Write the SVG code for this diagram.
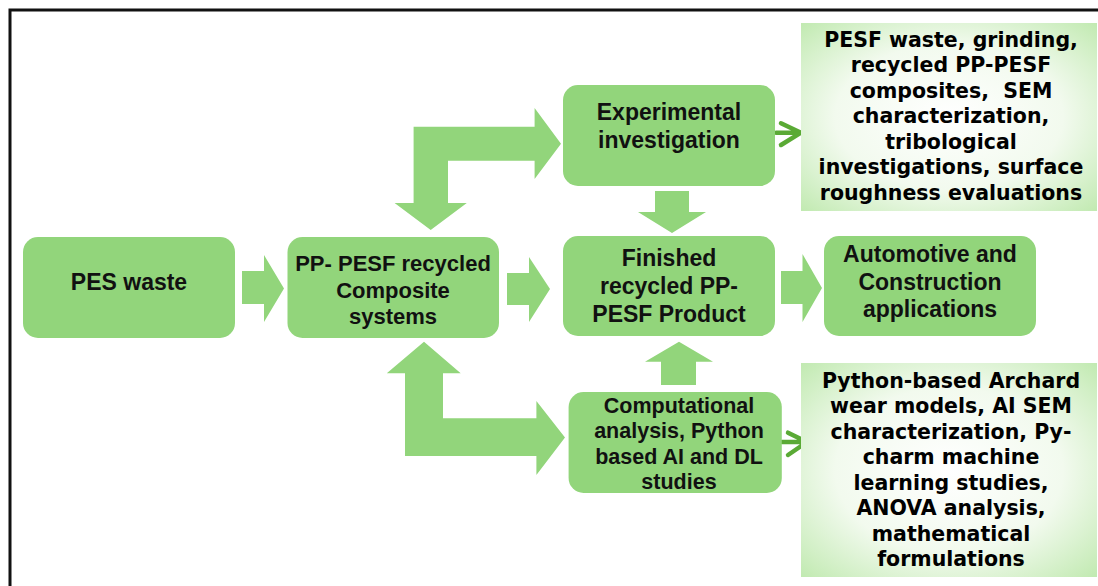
<svg xmlns="http://www.w3.org/2000/svg" width="1098" height="586" viewBox="0 0 1098 586">
<style>
.box{fill:#92d57b}
.blk{fill:#92d57b}
.t{font-family:"Liberation Sans",Arial,sans-serif;font-weight:bold;font-size:23px;fill:#111;text-anchor:middle}
.tp{font-size:22px}
.tc{font-size:21.5px}
.d{font-family:"DejaVu Sans",sans-serif;font-weight:bold;font-size:20.5px;fill:#000;text-anchor:middle}
.sa{fill:none;stroke:#5aaa35;stroke-width:4.5;stroke-linecap:round;stroke-linejoin:round}
</style>
<defs>
<radialGradient id="gd" cx="50%" cy="50%" r="70%">
<stop offset="0" stop-color="#ffffff"/>
<stop offset="0.55" stop-color="#f2faee"/>
<stop offset="1" stop-color="#c2eab2"/>
</radialGradient>
</defs>
<rect x="0" y="0" width="1098" height="586" fill="#fff"/>
<path d="M10 600 V10 H1110" fill="none" stroke="#111" stroke-width="3"/>

<g id="connectors">
<polygon class="blk" points="242,271 264,271 264,255 284,288.5 264,322 264,304 242,304"/>
<polygon class="blk" points="507,273 529,273 529,257 550,289 529,322 529,305 507,305"/>
<polygon class="blk" points="781,271 802.5,271 802.5,254 822,288 802.5,322 802.5,304 781,304"/>
<polygon class="blk" points="413.6,126.7 534.6,126.7 534.6,108 561,143.7 534.6,179 534.6,160.7 448,160.7 448,203 466.8,203 430.7,230 394.6,203 413.6,203"/>
<polygon class="blk" points="424,341.7 460.7,373.3 443,373.3 443,418.3 536.4,418.3 536.4,401 565,437.5 536.4,475 536.4,456 405,456 405,373.3 386.8,373.3"/>
<polygon class="blk" points="655,191 689,191 689,212 706,212 672,233 638,212 655,212"/>
<polygon class="blk" points="679,341.7 713,361.7 696,361.7 696,385 661,385 661,361.7 645,361.7"/>
<path class="sa" d="M776 132.7 H800 M781 123.3 L801 132.7 L781 145"/>
<path class="sa" d="M782 442 H806 M788 432.7 L807 442 L788 455"/>
</g>

<g id="pes-waste">
<rect class="box" x="23" y="237" width="212" height="101" rx="15"/>
<text class="t" x="129" y="290">PES waste</text>
</g>
<g id="pp-pesf">
<rect class="box" x="287.5" y="237" width="211.5" height="101" rx="15"/>
<text class="t tp" x="393" y="271">PP- PESF recycled</text>
<text class="t tp" x="393" y="297.5">Composite</text>
<text class="t tp" x="393" y="324">systems</text>
</g>
<g id="experimental">
<rect class="box" x="563" y="85" width="212" height="101" rx="15"/>
<text class="t" x="669" y="120">Experimental</text>
<text class="t" x="669" y="147.5">investigation</text>
</g>
<g id="finished">
<rect class="box" x="563" y="236" width="212" height="100" rx="15"/>
<text class="t" x="669" y="266">Finished</text>
<text class="t" x="669" y="294">recycled PP-</text>
<text class="t" x="669" y="322">PESF Product</text>
</g>
<g id="automotive">
<rect class="box" x="824" y="236" width="212" height="100" rx="15"/>
<text class="t" x="930" y="262">Automotive and</text>
<text class="t" x="930" y="290">Construction</text>
<text class="t" x="930" y="317">applications</text>
</g>
<g id="computational">
<rect class="box" x="568.6" y="392" width="213.2" height="101" rx="15"/>
<text class="t tc" x="679" y="412.5">Computational</text>
<text class="t tc" x="679" y="438">analysis, Python</text>
<text class="t tc" x="679" y="463.5">based AI and DL</text>
<text class="t tc" x="679" y="489">studies</text>
</g>
<g id="experimental-details">
<rect x="801" y="23" width="296" height="188" fill="url(#gd)"/>
<text class="d" x="951" y="46.5">PESF waste, grinding,</text>
<text class="d" x="951" y="72">recycled PP-PESF</text>
<text class="d" x="951" y="97.5" xml:space="preserve">composites,  SEM</text>
<text class="d" x="951" y="123">characterization,</text>
<text class="d" x="951" y="148.5">tribological</text>
<text class="d" x="951" y="174">investigations, surface</text>
<text class="d" x="951" y="199.5">roughness evaluations</text>
</g>
<g id="computational-details">
<rect x="801" y="363" width="296" height="214" fill="url(#gd)"/>
<text class="d" x="951" y="387.5">Python-based Archard</text>
<text class="d" x="951" y="413">wear models, AI SEM</text>
<text class="d" x="951" y="438.5">characterization, Py-</text>
<text class="d" x="951" y="464">charm machine</text>
<text class="d" x="951" y="489.5">learning studies,</text>
<text class="d" x="951" y="515">ANOVA analysis,</text>
<text class="d" x="951" y="540.5">mathematical</text>
<text class="d" x="951" y="566">formulations</text>
</g>
</svg>
